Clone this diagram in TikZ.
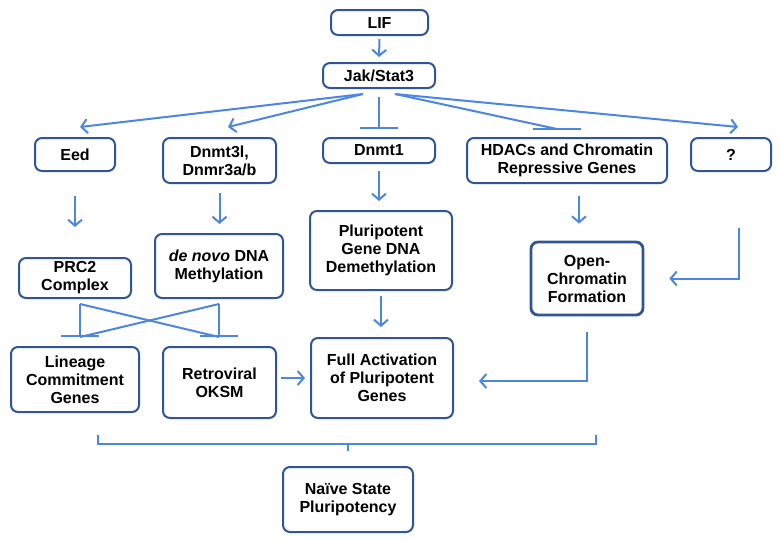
\documentclass[tikz,border=0pt]{standalone}
\usepackage{fontspec}
\setmainfont{Liberation Sans}
\usetikzlibrary{arrows.meta,calc,positioning}
\definecolor{boxblue}{RGB}{47,85,151}
\definecolor{lineblue}{RGB}{74,134,226}
\begin{document}
\begin{tikzpicture}[
  x=1pt,y=-1pt,
  every node/.style={font=\fontsize{16}{18}\selectfont\bfseries},
  gbox/.style={draw=boxblue,line width=2pt,rounded corners=7pt,
               align=center,inner sep=0pt},
  flow/.style={draw=lineblue,line width=2pt},
  act/.style={flow,-{Straight Barb[length=6pt,width=14pt]}},
  inh/.style={flow,-{Bar[width=38pt]}}
]
\useasboundingbox (0,0) rectangle (781,539);

\node[gbox,minimum width=97pt,minimum height=25pt]  (lif)  at (379.5,22.5) {LIF};
\node[gbox,minimum width=112pt,minimum height=25pt] (jak)  at (379,75.5)   {Jak/Stat3};

\node[gbox,minimum width=80pt,minimum height=33pt]  (eed)   at (75,154.5)  {Eed};
\node[gbox,minimum width=113pt,minimum height=45pt] (dnmt3) at (219.5,160.5) {Dnmt3l,\\Dnmr3a/b};
\node[gbox,minimum width=112pt,minimum height=25pt] (dnmt1) at (379,150.5) {Dnmt1};
\node[gbox,minimum width=200pt,minimum height=45pt] (hdac)  at (567,160.5) {HDACs and Chromatin\\Repressive Genes};
\node[gbox,minimum width=80pt,minimum height=33pt]  (unk)   at (731,154.5) {?};

\node[gbox,minimum width=112pt,minimum height=40pt] (prc)    at (75,278)  {PRC2\\Complex};
\node[gbox,minimum width=128pt,minimum height=64pt] (denovo) at (219,266) {\textit{de novo} DNA\\Methylation};
\node[gbox,minimum width=142pt,minimum height=79pt] (pluri)  at (381,250.5) {Pluripotent\\Gene DNA\\Demethylation};
\node[gbox,line width=2.8pt,minimum width=112pt,minimum height=73pt] (open) at (587,278.5) {Open-\\Chromatin\\Formation};

\node[gbox,minimum width=128pt,minimum height=65pt] (lineage) at (75,379.5)  {Lineage\\Commitment\\Genes};
\node[gbox,minimum width=113pt,minimum height=71pt] (retro)   at (219.5,382.5) {Retroviral\\OKSM};
\node[gbox,minimum width=142pt,minimum height=80pt] (full)    at (382,378)   {Full Activation\\of Pluripotent\\Genes};

\node[gbox,minimum width=130pt,minimum height=65pt] (naive) at (348,499.5) {Naïve State\\Pluripotency};

\draw[act] ([yshift=-3pt]lif.south) -- ([yshift=5pt]jak.north);

\draw[act] ([xshift=-16pt,yshift=-5pt]jak.south) -- ([xshift=5pt,yshift=10pt]eed.north);
\draw[act] ([xshift=-16pt,yshift=-5pt]jak.south) -- ([xshift=8.5pt,yshift=10pt]dnmt3.north);
\draw[inh] ([yshift=-8pt]jak.south) -- ([yshift=8pt]dnmt1.north);
\coordinate (hbar) at ([xshift=-10pt,yshift=8pt]hdac.north);
\draw[flow] ([xshift=16pt,yshift=-5pt]jak.south) -- (hbar);
\draw[flow] ($(hbar)+(-24,0)$) -- ($(hbar)+(24,0)$);
\draw[act] ([xshift=16pt,yshift=-5pt]jak.south) -- ([xshift=7pt,yshift=10pt]unk.north);

\draw[act] ([yshift=-24pt]eed.south) -- ([yshift=30pt]prc.north);
\draw[act] ([yshift=-9pt]dnmt3.south) -- ([yshift=9pt]dnmt3.south |- denovo.north);
\draw[act] ([yshift=-7pt]dnmt1.south) -- ([yshift=9pt]dnmt1.south |- pluri.north);
\draw[act] ([xshift=12pt,yshift=-12pt]hdac.south) -- ([xshift=-8pt,yshift=17pt]open.north);
\draw[act] ([xshift=8pt,yshift=-56pt]unk.south) |- ([xshift=25pt]open.east);

\coordinate (p1) at ([xshift=5pt,yshift=-5pt]prc.south);
\coordinate (p2) at ([yshift=-5pt]denovo.south);
\coordinate (b1) at ([xshift=5pt,yshift=9pt]lineage.north);
\coordinate (b2) at (p2 |- b1);
\draw[inh] (p1) -- (b1);
\draw[inh] (p2) -- (b2);
\draw[flow] (p1) -- (b2);
\draw[flow] (p2) -- (b1);

\draw[act] ([yshift=-5pt]pluri.south) -- ([yshift=10pt]pluri.south |- full.north);
\draw[act] ([xshift=4pt]retro.east |- full.west) -- ([xshift=-5pt]full.west);
\draw[act] ([yshift=-16pt]open.south) |- ([xshift=25pt,yshift=-3pt]full.east);

\coordinate (brl) at (98,435);
\coordinate (brr) at (596,435);
\coordinate (brm) at ([yshift=15pt]naive.north);
\draw[flow] (brl) -- (98,444) -- (596,444) -- (brr);
\draw[flow] (brm |- 0,444) -- (brm);
\end{tikzpicture}
\end{document}
